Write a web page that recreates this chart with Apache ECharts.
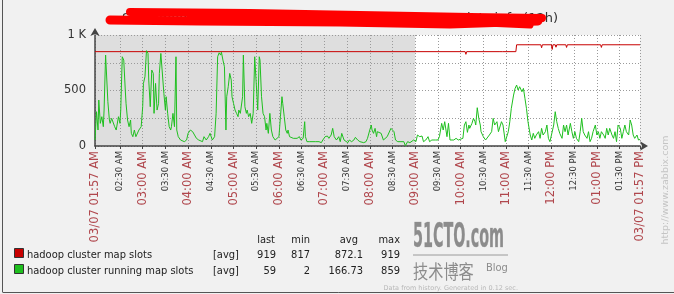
<!DOCTYPE html>
<html><head><meta charset="utf-8">
<script src="https://cdn.jsdelivr.net/npm/echarts@6/dist/echarts.min.js"></script>
<style>html,body{margin:0;padding:0;background:#f1f1f1}#c{width:674px;height:294px}</style>
</head><body><div id="c"></div><script>
// minutes after 03/07 01:57 AM
const tickMinutes = [0,33,63,93,123,153,183,213,243,273,303,333,363,393,423,453,483,513,543,573,603,633,663,693,720];
const tickLabels = ['03/07 01:57 AM','02:30 AM','03:00 AM','03:30 AM','04:00 AM','04:30 AM','05:00 AM','05:30 AM','06:00 AM','06:30 AM','07:00 AM','07:30 AM','08:00 AM','08:30 AM','09:00 AM','09:30 AM','10:00 AM','10:30 AM','11:00 AM','11:30 AM','12:00 PM','12:30 PM','01:00 PM','01:30 PM','03/07 01:57 PM'];
const yTickValues = [0,500,1000];
const yTickLabels = ['0','500','1 K'];
const workStartMinute = 423; // 09:00 AM
const seriesNames = ['hadoop cluster map slots','hadoop cluster running map slots'];
const seriesColors = ['#c80000','#1fbf1f'];
const statHeaders = ['last','min','avg','max'];
const mapSlotsStats = ['919','817','872.1','919'];
const runningSlotsStats = ['59','2','166.73','859'];
const titleText = 'Sa-hadoop-namenode: 222 idc hadoop cluster map slots info (12h)';

const mapSlots = [[0,850],[489,850],[490,826],[491,850],[535,850],[536,835],[538,850],[556,850],[557,912],[589,912],[590,885],[591,912],[603,912],[604,870],[605,912],[608,912],[609,890],[610,912],[622,912],[623,888],[624,912],[668,912],[669,888],[670,912],[720,912]];

const runningSlots = [[0,54],[2,309],[4,144],[5,414],[7,204],[9,264],[11,174],[12,324],[14,819],[16,834],[17,399],[19,234],[20,204],[22,249],[24,264],[26,174],[28,144],[31,264],[33,204],[34,324],[36,804],[38,774],[40,504],[41,384],[43,234],[45,174],[47,234],[48,114],[50,84],[52,144],[54,84],[56,69],[58,144],[61,174],[63,354],[64,564],[66,624],[68,859],[70,834],[71,594],[73,354],[75,684],[77,654],[78,294],[80,564],[82,324],[84,384],[85,654],[87,834],[89,845],[91,474],[93,324],[94,444],[96,294],[98,174],[100,144],[101,174],[103,294],[105,174],[107,804],[108,144],[110,84],[113,54],[115,69],[118,39],[121,54],[123,114],[126,144],[129,129],[131,114],[134,69],[137,54],[139,69],[142,39],[144,84],[147,54],[150,84],[152,114],[155,54],[158,84],[160,294],[162,804],[164,840],[166,819],[167,845],[169,774],[171,714],[173,144],[174,444],[176,534],[178,654],[180,594],[181,444],[183,384],[185,324],[187,294],[189,264],[190,324],[192,294],[195,444],[196,819],[198,354],[200,294],[201,324],[203,264],[205,294],[207,204],[209,294],[211,804],[213,819],[215,324],[217,804],[218,774],[220,444],[222,294],[224,264],[226,144],[227,204],[229,114],[231,294],[233,144],[235,84],[238,54],[240,54],
[243,84],[245,264],[247,444],[248,384],[250,264],[252,144],[254,114],[255,144],[257,84],[259,99],[262,69],[264,54],[267,69],[270,84],[272,54],[275,69],[277,219],[278,84],[280,39],[283,39],[285,30],[288,39],[291,39],[293,54],[296,39],[299,30],[301,54],[304,84],[307,90],[309,69],[312,99],[314,159],[316,84],[319,54],[322,84],[324,39],[326,114],[329,54],[331,39],[334,30],[336,54],[339,39],[342,54],[344,78],[347,54],[350,39],[352,39],[355,30],[358,39],[360,69],[363,144],[365,189],[366,144],[368,114],[370,159],[372,84],[373,129],[375,144],[378,114],[381,54],[383,39],[386,84],[388,69],[391,159],[393,174],[395,129],[397,54],[400,39],[403,39],[405,54],[408,39],[410,2],[413,39],[416,30],[418,39],[421,54],[424,39],[426,99],[429,84],[432,90],[434,39],[437,54],[440,84],[442,39],[445,54],[447,39],[450,54],[453,54],[455,84],[458,204],[460,144],[462,219],[463,234],[465,84],[467,204],[469,54],[471,39],[474,54],[477,69],[480,54],
[482,54],[486,69],[488,189],[490,219],[492,123],[494,189],[495,159],[498,204],[500,249],[502,219],[503,189],[505,345],[507,249],[509,189],[510,129],[513,84],[516,54],[518,69],[521,99],[524,129],[526,249],[528,189],[531,219],[533,129],
[535,129],[537,219],[539,189],[542,39],[544,54],[546,129],[548,219],[550,339],[553,459],[555,519],[557,549],[559,504],[561,534],[564,489],[566,519],[568,429],[570,339],[572,219],[575,99],[577,54],[579,114],[581,69],[583,99],[586,129],[588,69],[590,159],[592,99],[595,129],[597,189],[599,69],[601,39],[603,99],[606,189],[608,309],[610,219],[612,159],[614,114],[617,69],[619,189],[621,129],[623,189],[625,99],[628,204],[630,129],[632,69],[634,129],[636,69],[639,39],[641,129],[643,249],[645,129],[647,99],[650,69],[652,129],[654,39],[656,69],[658,129],[661,189],[663,99],[665,129],[667,69],[669,129],[672,99],[674,69],[676,159],[678,99],[680,159],[683,99],[685,69],[687,129],[689,39],[691,189],[694,159],[696,69],[698,129],[700,189],[702,129],[705,99],[707,234],[709,189],[711,99],[713,69],[716,99],[718,54],[720,59]];

const categories = [];
for (let i = 0; i <= 720; i++) categories.push(String(i));
const tickMap = {};
tickMinutes.forEach((m, i) => { tickMap[m] = tickLabels[i]; });
const isTick = (i) => tickMap[i] !== undefined;

const FONT = '"DejaVu Sans", sans-serif';
const COND = '"DejaVu Sans Condensed", "DejaVu Sans", sans-serif';

const chart = echarts.init(document.getElementById('c'), null, {renderer: 'canvas'});

const legendGraphics = [];
const rowsY = [255, 271];
const statRows = [mapSlotsStats, runningSlotsStats];
const colRight = [276, 310, 363, 400];
const headerRight = [275, 310, 358, 400];
statHeaders.forEach((h, j) => legendGraphics.push({type:'text', x: headerRight[j], y: 240,
  style:{text:h, font:'11px ' + COND, fill:'#222', textAlign:'right', textVerticalAlign:'middle'}}));
seriesNames.forEach((n, i) => {
  legendGraphics.push({type:'rect', shape:{x:14.5, y:rowsY[i]-6.5, width:9, height:9}, style:{fill:seriesColors[i], stroke:'#333', lineWidth:1}});
  legendGraphics.push({type:'text', x:27, y:rowsY[i], style:{text:n, font:'11px ' + COND, fill:'#222', textVerticalAlign:'middle'}});
  legendGraphics.push({type:'text', x:213, y:rowsY[i], style:{text:'[avg]', font:'11px ' + COND, fill:'#222', textVerticalAlign:'middle'}});
  statRows[i].forEach((v, j) => legendGraphics.push({type:'text', x:colRight[j], y:rowsY[i],
    style:{text:v, font:'11px ' + COND, fill:'#222', textAlign:'right', textVerticalAlign:'middle'}}));
});

const option = {
  backgroundColor: '#f1f1f1',
  animation: false,
  grid: {left: 95, right: 34, top: 35, height: 111, show: true, backgroundColor: '#ffffff', borderWidth: 0, z: 0},
  xAxis: {
    type: 'category', data: categories, boundaryGap: false, z: 2,
    axisLine: {lineStyle: {color: '#444', width: 1.5}, symbol: ['none', 'arrow'], symbolSize: [7, 8], symbolOffset: [0, 8]},
    axisTick: {interval: isTick, length: 3, lineStyle: {color: '#444'}},
    axisLabel: {
      interval: isTick, rotate: 90, margin: 5, showMinLabel: true, showMaxLabel: true, hideOverlap: false,
      formatter: (v) => {
        const t = tickMap[Number(v)];
        if (t === undefined) return '';
        return (/:00|03\/07/.test(t) ? '{r|' : '{k|') + t + '}';
      },
      rich: {
        r: {color: '#b0474d', fontSize: 11.5, fontFamily: FONT},
        k: {color: '#333', fontSize: 8.5, fontFamily: FONT}
      }
    },
    splitLine: {show: true, interval: isTick, lineStyle: {color: '#9a9a9a', type: [1, 2], width: 1}}
  },
  yAxis: {
    type: 'value', min: 0, max: 1000, interval: 250, z: 2,
    axisLine: {show: true, lineStyle: {color: '#444', width: 1.5}, symbol: ['none', 'arrow'], symbolSize: [7, 8], symbolOffset: [0, 7]},
    axisTick: {show: false},
    axisLabel: {color: '#333', fontSize: 11.5, fontFamily: FONT, margin: 9,
      formatter: (v) => { const k = yTickValues.indexOf(v); return k >= 0 ? yTickLabels[k] : ''; }},
    splitLine: {lineStyle: {color: '#9a9a9a', type: [1, 2], width: 1}}
  },
  series: [
    {type: 'line', data: [], z: 1, silent: true,
      markArea: {silent: true, itemStyle: {color: '#dedede'}, data: [[{xAxis: '0'}, {xAxis: String(workStartMinute)}]]}},
    {name: seriesNames[0], type: 'line', data: mapSlots, symbol: 'none', z: 3, lineStyle: {color: seriesColors[0], width: 1}},
    {name: seriesNames[1], type: 'line', data: runningSlots, symbol: 'none', z: 4, lineStyle: {color: seriesColors[1], width: 1}}
  ],
  graphic: [
    {type: 'line', shape: {x1: 2.5, y1: 0, x2: 2.5, y2: 292}, style: {stroke: '#555', lineWidth: 1}},
    {type: 'line', shape: {x1: 2.5, y1: 292.5, x2: 674, y2: 292.5}, style: {stroke: '#555', lineWidth: 1}},
    {type: 'text', x: 558, y: 19, style: {text: titleText, font: '13px ' + FONT, fill: '#333', textAlign: 'right', textVerticalAlign: 'middle'}},
    {type: 'polyline', shape: {points: [[110, 20], [200, 21], [340, 22], [450, 24], [538, 21]]}, style: {stroke: '#f00', lineWidth: 9, lineCap: 'round', lineJoin: 'round', fill: null}},
    {type: 'polyline', shape: {points: [[130, 12], [250, 13], [360, 15], [470, 17], [542, 18]]}, style: {stroke: '#f00', lineWidth: 8, lineCap: 'round', lineJoin: 'round', fill: null}},
    {type: 'polyline', shape: {points: [[190, 17], [420, 20], [530, 25]]}, style: {stroke: '#f00', lineWidth: 7, lineCap: 'round', fill: null}},
    ...legendGraphics,
    {type: 'text', x: 413, y: 238, scaleX: 0.47, style: {text: '51CTO.com', font: 'bold 34px ' + COND, fill: '#8c8c8c', stroke: '#bbb', lineWidth: 0.5, textVerticalAlign: 'middle'}},
    {type: 'line', shape: {x1: 413, y1: 255, x2: 508, y2: 255}, style: {stroke: '#9a9a9a', lineWidth: 1}},
    {type: 'text', x: 413, y: 272, scaleX: 0.8, style: {text: '技术博客', font: '19px "Noto Sans CJK SC"', fill: '#8c8c8c', textVerticalAlign: 'middle'}},
    {type: 'text', x: 486, y: 268, style: {text: 'Blog', font: '11px ' + COND, fill: '#8c8c8c', textVerticalAlign: 'middle'}},
    {type: 'text', x: 666, y: 190, rotation: Math.PI / 2, style: {text: 'http://www.zabbix.com', font: '9.5px ' + FONT, fill: '#c4c4c4', textAlign: 'center', textVerticalAlign: 'middle'}},
    {type: 'text', x: 518, y: 288, style: {text: 'Data from history. Generated in 0.12 sec.', font: '6.5px ' + FONT, fill: '#b8b8b8', textAlign: 'right', textVerticalAlign: 'middle'}}
  ]
};
chart.setOption(option);
</script></body></html>
